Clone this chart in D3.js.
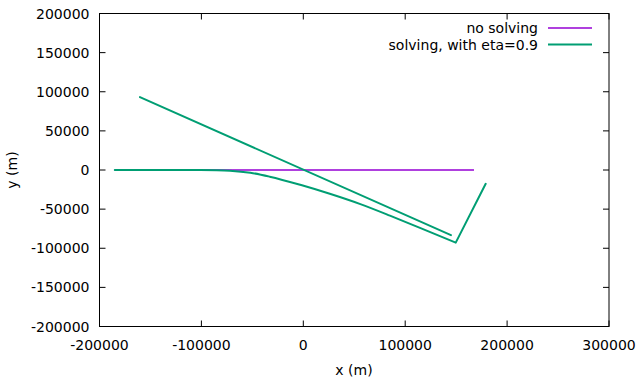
<!DOCTYPE html>
<html>
<head>
<meta charset="utf-8">
<script src="https://cdn.jsdelivr.net/npm/d3@7"></script>
<style>
  body { margin: 0; background: #fff; }
  svg { display: block; }
  text { font-family: "DejaVu Sans", sans-serif; font-size: 14px; fill: #000; }
</style>
</head>
<body>
<svg id="chart" width="639" height="379"></svg>
<script>
// ---- data ----
const xTicks = [-200000, -100000, 0, 100000, 200000, 300000];
const yTicks = [-200000, -150000, -100000, -50000, 0, 50000, 100000, 150000, 200000];
const seriesNames = ["no solving", "solving, with eta=0.9"];
const noSolvingX = [-185000, 167500];
const noSolvingY = [0, 0];
// green series, in three pieces: curved track, rebound, straight return track
const solvingCurveX = [-185000, -101000, -85000, -72000, -52000, -33000, -3000, 26000, 56000, 85000, 114500, 149600];
const solvingCurveY = [0, 0, -250, -900, -3500, -8500, -18900, -30400, -43600, -58300, -74000, -92800];
const solvingReboundX = [149600, 179000];
const solvingReboundY = [-92800, -17600];
const solvingReturnX = [-160300, 144900];
const solvingReturnY = [93100, -83300];
const colors = ["#9400d3", "#009e73"];

// ---- chart ----
const svg = d3.select("#chart");
const L = 99.5, R = 609, T = 13.5, B = 326.5;
const x = d3.scaleLinear().domain([-200000, 300000]).range([L, R]);
const y = d3.scaleLinear().domain([-200000, 200000]).range([B, T]);

const tick = 6;
const g = svg.append("g");
xTicks.forEach(v => {
  g.append("line").attr("x1", x(v)).attr("x2", x(v)).attr("y1", B).attr("y2", B - tick).attr("stroke", "#000");
  g.append("line").attr("x1", x(v)).attr("x2", x(v)).attr("y1", T).attr("y2", T + tick).attr("stroke", "#000");
  g.append("text").attr("x", x(v)).attr("y", 344.5).attr("text-anchor", "middle").attr("dominant-baseline", "central").text(v);
});
yTicks.forEach(v => {
  g.append("line").attr("x1", L).attr("x2", L + tick).attr("y1", y(v)).attr("y2", y(v)).attr("stroke", "#000");
  g.append("line").attr("x1", R).attr("x2", R - tick).attr("y1", y(v)).attr("y2", y(v)).attr("stroke", "#000");
  g.append("text").attr("x", 89.5).attr("y", y(v)).attr("text-anchor", "end").attr("dominant-baseline", "central").text(v);
});
g.append("rect").attr("x", L).attr("y", T).attr("width", R - L).attr("height", B - T)
  .attr("fill", "none").attr("stroke", "#000").attr("stroke-width", 1);

svg.append("text").attr("x", 354).attr("y", 369.5).attr("text-anchor", "middle").attr("dominant-baseline", "central").text("x (m)");
svg.append("text").attr("transform", "translate(12,170) rotate(-90)").attr("text-anchor", "middle").attr("dominant-baseline", "central").text("y (m)");

const zip = (a, b) => a.map((v, i) => [v, b[i]]);
const straight = d3.line().x(d => x(d[0])).y(d => y(d[1]));
const smooth = d3.line().curve(d3.curveMonotoneX).x(d => x(d[0])).y(d => y(d[1]));

svg.append("path").attr("d", straight(zip(noSolvingX, noSolvingY))).attr("fill", "none")
  .attr("stroke", colors[0]).attr("stroke-width", 1.4);
const green = svg.append("g").attr("fill", "none").attr("stroke", colors[1]).attr("stroke-width", 2)
  .attr("stroke-linejoin", "round").attr("stroke-linecap", "round");
green.append("path").attr("d", smooth(zip(solvingCurveX, solvingCurveY)) + straight(zip(solvingReboundX, solvingReboundY)).replace("M", "L"));
green.append("path").attr("d", straight(zip(solvingReturnX, solvingReturnY)));

const legY = [28, 44.5];
seriesNames.forEach((n, i) => {
  svg.append("text").attr("x", 538).attr("y", legY[i]).attr("text-anchor", "end").attr("dominant-baseline", "central").text(n);
  svg.append("line").attr("x1", 548).attr("x2", 592).attr("y1", legY[i]).attr("y2", legY[i])
    .attr("stroke", colors[i]).attr("stroke-width", i === 0 ? 1.4 : 2);
});
</script>
</body>
</html>
